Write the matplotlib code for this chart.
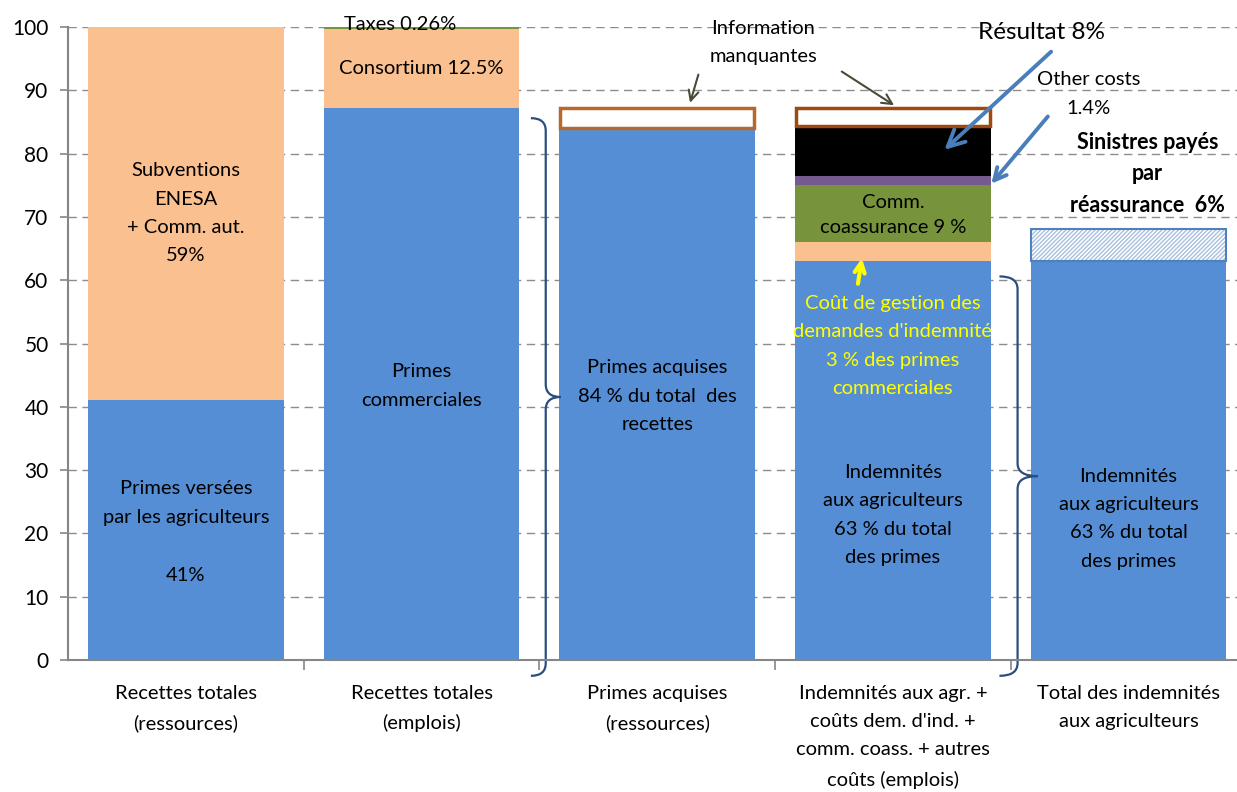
import matplotlib
matplotlib.use("Agg")
import matplotlib.pyplot as plt
from matplotlib.path import Path
from matplotlib.patches import PathPatch

plt.rcParams['font.family'] = ['Lato', 'DejaVu Sans']

categories = ["Recettes totales\n(ressources)", "Recettes totales\n(emplois)",
              "Primes acquises\n(ressources)",
              "Indemnités aux agr. +\ncoûts dem. d'ind. +\ncomm. coass. + autres\ncoûts (emplois)",
              "Total des indemnités\naux agriculteurs"]

# bar 1 : ressources
primes_agri = 41
subventions = 59
# bar 2 : emplois
primes_comm = 87.2
consortium = 12.5
taxes = 0.26
# bar 3
primes_acquises = 84
# bar 4
indemnites = 63
cout_gestion = 3
comm_coass = 9
other_costs = 1.4
resultat = 8
# bar 5
reassurance_pct = 6

BLUE = '#558ed5'
ORANGE = '#fac090'
GREEN = '#77933c'
PURPLE = '#745a8f'
W = 0.83

fig = plt.figure(figsize=(12.37, 7.92), dpi=100)
ax = fig.add_axes([68 / 1237, 1 - 660 / 792, 1 - 68 / 1237, (660 - 27) / 792])
ax.set_xlim(-0.5, 4.46)
ax.set_ylim(0, 100)

ax.set_yticks(range(0, 101, 10))
ax.yaxis.grid(True, linestyle=(0, (6, 4)), color='#8c8c8c', linewidth=1)
ax.set_axisbelow(True)
for s in ['top', 'right']:
    ax.spines[s].set_visible(False)
for s in ['left', 'bottom']:
    ax.spines[s].set_color('#868686')
    ax.spines[s].set_linewidth(1.5)
ax.tick_params(axis='y', colors='#868686', length=6, width=1.2, labelsize=15, labelcolor='black', pad=8)
ax.set_xticks(range(5))
ax.set_xticklabels(categories, fontsize=14.5, linespacing=1.8, va='top')
ax.tick_params(axis='x', length=0, pad=18)
ax.set_xticks([0.5, 1.5, 2.5, 3.5], minor=True)
ax.tick_params(axis='x', which='minor', length=7, width=1.2, colors='#868686')

# bar 1
ax.bar(0, primes_agri, W, color=BLUE)
ax.bar(0, subventions, W, bottom=primes_agri, color=ORANGE)
# bar 2
ax.bar(1, primes_comm, W, color=BLUE)
ax.bar(1, consortium, W, bottom=primes_comm, color=ORANGE)
ax.bar(1, taxes, W, bottom=primes_comm + consortium, color=GREEN)
# bar 3
ax.bar(2, primes_acquises, W, color=BLUE)
ax.bar(2, primes_comm - primes_acquises, W * 0.99, bottom=primes_acquises,
       color='white', edgecolor='#b5692f', linewidth=2.5)
# bar 4
b = 0
for h, c in [(indemnites, BLUE), (cout_gestion, ORANGE), (comm_coass, GREEN),
             (other_costs, PURPLE), (resultat, 'black')]:
    ax.bar(3, h, W, bottom=b, color=c)
    b += h
ax.bar(3, primes_comm - b, W * 0.99, bottom=b, color='white', edgecolor='#9c4a10', linewidth=2.5)
# bar 5
reass = reassurance_pct / 100 * primes_acquises
ax.bar(4, indemnites, W, color=BLUE)
ax.bar(4, reass, W, bottom=indemnites, color='white', edgecolor='#a9c0df', hatch='////////', linewidth=0)
ax.bar(4, reass, W, bottom=indemnites, color='none', edgecolor='#4f81bd', linewidth=1.5)

# text in bars
fs = 14.5
ls = 1.8
ax.text(0, 70.6, "Subventions\nENESA\n+ Comm. aut.\n59%", ha='center', va='center', fontsize=fs, linespacing=ls)
ax.text(0, 24.8, "Primes versées\npar les agriculteurs", ha='center', va='center', fontsize=fs, linespacing=ls)
ax.text(0, 13.3, "41%", ha='center', va='center', fontsize=fs)
ax.text(1, 43.3, "Primes\ncommerciales", ha='center', va='center', fontsize=fs, linespacing=ls)
ax.text(1, 93.4, "Consortium 12.5%", ha='center', va='center', fontsize=fs)
ax.text(0.91, 100.4, "Taxes 0.26%", ha='center', va='center', fontsize=fs)
ax.text(2, 41.7, "Primes acquises\n84 % du total  des\nrecettes", ha='center', va='center', fontsize=fs, linespacing=ls)
ax.text(3, 70.3, "Comm.\ncoassurance 9 %", ha='center', va='center', fontsize=fs, linespacing=1.6)
ax.text(3, 49.6, "Coût de gestion des\ndemandes d'indemnité\n3 % des primes\ncommerciales",
        ha='center', va='center', fontsize=fs, color='#ffff00', linespacing=ls)
ax.text(3, 22.9, "Indemnités\naux agriculteurs\n63 % du total\ndes primes", ha='center', va='center', fontsize=fs, linespacing=ls)
ax.text(4, 22.3, "Indemnités\naux agriculteurs\n63 % du total\ndes primes", ha='center', va='center', fontsize=fs, linespacing=ls)

# annotations above
ax.text(2.45, 97.5, "Information\nmanquantes", ha='center', va='center', fontsize=fs, linespacing=ls)
ax.annotate("", xy=(2.136, 87.6), xytext=(2.178, 92.9), annotation_clip=False,
            arrowprops=dict(arrowstyle='->', color='#4a4a38', lw=1.5, mutation_scale=18))
ax.annotate("", xy=(3.015, 87.4), xytext=(2.773, 93.2), annotation_clip=False,
            arrowprops=dict(arrowstyle='->', color='#4a4a38', lw=1.5, mutation_scale=18))
ax.text(3.63, 99.1, "Résultat 8%", ha='center', va='center', fontsize=17.5, clip_on=False)
ax.annotate("", xy=(3.21, 80.3), xytext=(3.68, 96.4), annotation_clip=False,
            arrowprops=dict(arrowstyle='->', color='#4a7ebb', lw=2.8, mutation_scale=30))
ax.text(3.83, 89.4, "Other costs\n1.4%", ha='center', va='center', fontsize=fs, linespacing=ls)
ax.annotate("", xy=(3.41, 74.9), xytext=(3.665, 86.2), annotation_clip=False,
            arrowprops=dict(arrowstyle='->', color='#4a7ebb', lw=2.8, mutation_scale=22))
ax.annotate("", xy=(2.87, 63.9), xytext=(2.85, 59.0), annotation_clip=False,
            arrowprops=dict(arrowstyle='->', color='#ffff00', lw=3, mutation_scale=18))
ax.text(4.08, 76.8, "Sinistres payés\npar\nréassurance  6%", ha='center', va='center',
        fontsize=15.5, fontweight='bold', linespacing=1.6)


def brace(x, y0, y1, xl, xt):
    # right-pointing curly brace from y0 to y1
    ym = (y0 + y1) / 2
    r = 2.0
    verts = [(xl, y1), (x, y1), (x, y1 - r), (x, ym + r),
             (x, ym), (xt, ym),
             (x, ym), (x, ym - r),
             (x, y0 + r), (x, y0), (xl, y0)]
    codes = [Path.MOVETO, Path.CURVE3, Path.CURVE3, Path.LINETO,
             Path.CURVE3, Path.CURVE3,
             Path.CURVE3, Path.CURVE3,
             Path.LINETO, Path.CURVE3, Path.CURVE3]
    ax.add_patch(PathPatch(Path(verts, codes), fill=False, edgecolor='#2a4e80',
                           lw=1.6, clip_on=False))


brace(1.527, -2.5, 85.6, 1.464, 1.591)
brace(3.529, -2.5, 60.6, 3.452, 3.614)

fig.savefig('out.png', dpi=100)
